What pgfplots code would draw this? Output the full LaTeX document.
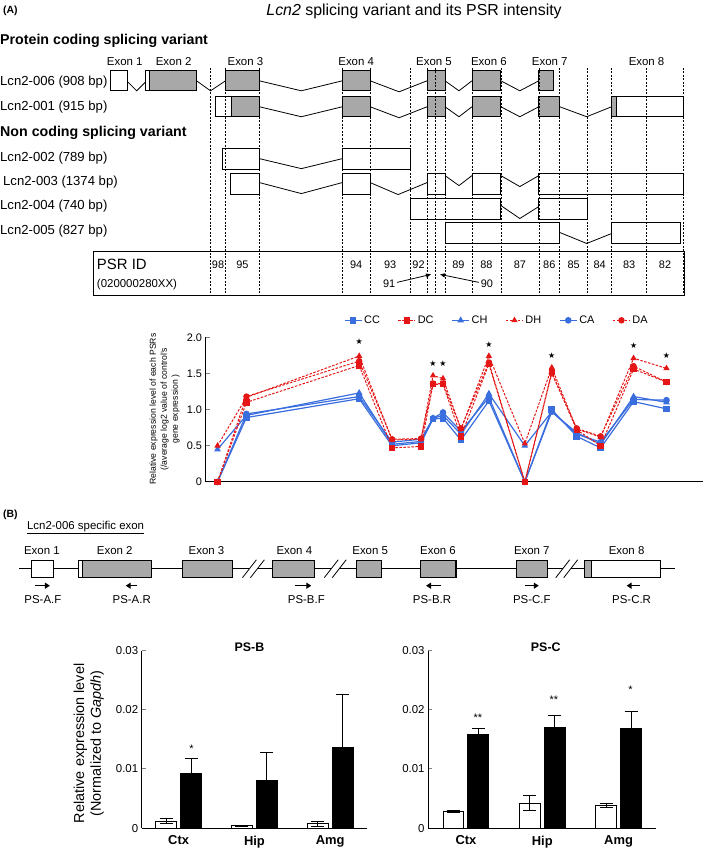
\documentclass[border=0pt]{standalone}
\usepackage{pgfplots}
\pgfplotsset{compat=1.18}
\usepackage{pgfplotstable}
\usepackage{fontspec}
\setmainfont{Liberation Sans}
\newfontfamily\djv{DejaVu Sans}
\usetikzlibrary{arrows.meta}
\definecolor{lblue}{RGB}{58,110,222}
\definecolor{lred}{RGB}{228,22,22}
\definecolor{exgray}{RGB}{168,168,168}
\newcommand{\fs}[1]{\fontsize{#1}{#1}\selectfont}

% PSR intensities, x = position of the PSR under the gene diagram
\pgfplotstableread{
x   CC   DC   CH   DH   CA   DA
218 0    0    0.45 0.50 0    0
247 0.89 1.10 0.92 1.17 0.94 1.18
360 1.15 1.61 1.23 1.74 1.18 1.67
393 0.50 0.47 0.52 0.58 0.55 0.59
422 0.54 0.49 0.56 0.59 0.59 0.60
434 0.87 1.35 0.88 1.47 0.88 1.36
444 0.88 1.35 0.92 1.43 0.96 1.36
462 0.58 0.63 0.66 0.73 0.70 0.74
490 1.12 1.63 1.22 1.74 1.17 1.65
526 0    0    0.50 0.53 0    0
553 1.00 1.52 0.97 1.58 0.97 1.50
578 0.63 0.72 0.68 0.73 0.66 0.74
602 0.47 0.50 0.52 0.62 0.55 0.63
635 1.11 1.56 1.18 1.71 1.14 1.60
668 1.01 1.38 1.10 1.57 1.13 1.38
}\psr

\pgfplotstableread{
x w      we      b      be
1 0.0012 0.0004  0.0092 0.0025
2 0.0004 0.00005 0.0080 0.0047
3 0.0007 0.0004  0.0137 0.0088
}\psb

\pgfplotstableread{
x w      we      b      be
1 0.0028 0.0001  0.0159 0.0010
2 0.0042 0.0013  0.0170 0.0021
3 0.0038 0.0003  0.0168 0.0029
}\psc

\pgfplotsset{
  bluel/.style={lblue, line width=1.2bp, solid, mark size=2.7bp, mark options={solid}},
  redl/.style={lred, line width=1bp, dash pattern=on 2.5bp off 1.5bp, mark size=2.7bp, mark options={solid}},
  barax/.style={anchor=south west, scale only axis, height=178bp,
    ybar=4bp, bar width=21bp, ymin=0, ymax=0.03,
    axis lines*=left, axis line style={line width=1bp},
    xtick={1,2,3}, xticklabels={Ctx,Hip,Amg}, x tick style={draw=none},
    xticklabel style={font=\bfseries\fs{13}, yshift=-4bp},
    ytick={0,0.01,0.02,0.03}, yticklabels={0,0.01,0.02,0.03}, scaled y ticks=false,
    tick align=inside, major tick length=4bp, y tick style={line width=1bp},
    yticklabel style={font=\fs{11.5}},
    /pgf/number format/assume math mode=true},
  ebar/.style={error bars/.cd, y dir=both, y explicit,
    error bar style={black, line width=1bp},
    error mark options={black, rotate=90, mark size=6.5bp, line width=1bp}}
}

\begin{document}
\begin{tikzpicture}[
  gx/.style={fill=exgray,draw=black,line width=0.8bp},
  wx/.style={fill=white,draw=black,line width=0.8bp},
  cn/.style={draw=black,line width=0.8bp},
  dv/.style={draw=black,line width=0.55bp,dash pattern=on 2bp off 1.5bp},
  lab/.style={inner sep=0pt,font=\fs{13.2}},
  ex/.style={inner sep=0pt,font=\fs{11.5}},
  arr/.style={line width=1.3bp,-{Triangle[length=5bp,width=6bp]}}
]
% ---------- canvas in pixel units ----------
\begin{axis}[at={(0,0)}, anchor=south west, scale only axis,
  width=709bp, height=851bp, xmin=0, xmax=709, ymin=0, ymax=851,
  y dir=reverse, hide axis, clip=false]
\path (0,0) rectangle (709,851);
\node[anchor=west,inner sep=0pt,font=\bfseries\fs{10.5}] at (3,11) {(A)};
\node[inner sep=0pt,font=\fs{16}] at (415,11) {\textit{Lcn2} splicing variant and its PSR intensity};
\node[anchor=west,inner sep=0pt,font=\bfseries\fs{14.3}] at (0,41) {Protein coding splicing variant};
\node[anchor=west,inner sep=0pt,font=\bfseries\fs{14.3}] at (0,133) {Non coding splicing variant};
\node[anchor=west,lab] at (0,82) {Lcn2-006 (908 bp)};
\node[anchor=west,lab] at (0,107) {Lcn2-001 (915 bp)};
\node[anchor=west,lab] at (0,158) {Lcn2-002 (789 bp)};
\node[anchor=west,lab] at (3,183) {Lcn2-003 (1374 bp)};
\node[anchor=west,lab] at (0,207) {Lcn2-004 (740 bp)};
\node[anchor=west,lab] at (0,232) {Lcn2-005 (827 bp)};
% exon labels
\foreach \xx/\tt in {125/1,174/2,246/3,357/4,435/5,490/6,551/7,648/8}{
  \edef\tmp{\noexpand\node[ex] at (\xx,62) {Exon \tt};}\tmp}
% Lcn2-006
\draw[wx] (111,71) rectangle (128,91);
\draw[cn] (128,82) -- (137,91) -- (146,82);
\draw[wx] (146,71) rectangle (150,91);
\draw[gx] (150,71) rectangle (197,91);
\draw[cn] (197,81) -- (211,91) -- (226,81);
\draw[gx] (226,71) rectangle (260,91);
\draw[cn] (260,81) -- (302,91) -- (343,81);
\draw[gx] (343,71) rectangle (371,91);
\draw[cn] (371,81) -- (400,92) -- (428,81);
\draw[gx] (428,71) rectangle (446,91);
\draw[cn] (446,81) -- (460,91) -- (473,81);
\draw[gx] (473,71) rectangle (502,91);
\draw[cn] (502,81) -- (521,91) -- (540,81);
\draw[gx] (540,71) rectangle (555,91);
% Lcn2-001
\draw[wx] (216,97) rectangle (232,117);
\draw[gx] (232,97) rectangle (260,117);
\draw[cn] (260,107) -- (302,117) -- (343,107);
\draw[gx] (343,97) rectangle (371,117);
\draw[cn] (371,107) -- (400,118) -- (428,107);
\draw[gx] (428,97) rectangle (446,117);
\draw[cn] (446,107) -- (460,117) -- (473,107);
\draw[gx] (473,97) rectangle (502,117);
\draw[cn] (502,107) -- (521,117) -- (540,107);
\draw[gx] (540,97) rectangle (561,117);
\draw[cn] (561,107) -- (588,117) -- (613,107);
\draw[gx] (613,97) rectangle (618,117);
\draw[wx] (618,97) rectangle (685,117);
% Lcn2-002
\draw[wx] (223,149) rectangle (260,170);
\draw[cn] (260,159) -- (302,169) -- (343,159);
\draw[wx] (343,149) rectangle (411,170);
% Lcn2-003
\draw[wx] (231,174) rectangle (260,195);
\draw[cn] (260,183) -- (302,194) -- (343,183);
\draw[wx] (343,174) rectangle (371,195);
\draw[cn] (371,183) -- (399,195) -- (428,183);
\draw[wx] (428,174) rectangle (446,195);
\draw[cn] (446,176) -- (460,186) -- (473,176);
\draw[wx] (473,174) rectangle (502,195);
\draw[cn] (502,176) -- (521,187) -- (540,176);
\draw[wx] (540,174) rectangle (685,195);
% Lcn2-004
\draw[wx] (411,199) rectangle (502,220);
\draw[cn] (502,206) -- (521,219) -- (540,207);
\draw[wx] (540,199) rectangle (589,220);
% Lcn2-005
\draw[wx] (446,223) rectangle (561,244);
\draw[cn] (561,233) -- (588,244) -- (613,234);
\draw[wx] (613,223) rectangle (682,244);
% PSR box
\draw[black,line width=0.8bp] (94,252) rectangle (686,296);
\foreach \xx in {211,226,260,343,371,411,428,436,446,473,502,540,561,589,613,648,685}{
  \edef\tmp{\noexpand\draw[dv] (\xx,68) -- (\xx,296);}\tmp}
\node[anchor=west,inner sep=0pt,font=\fs{15}] at (97,265) {PSR ID};
\node[anchor=west,inner sep=0pt,font=\fs{11.5}] at (97,285) {(020000280XX)};
\foreach \xx/\tt in {218.5/98,243/95,357/94,391/93,419.5/92,459.5/89,487.5/88,521/87,550.5/86,575/85,601/84,630.5/83,666.5/82}{
  \edef\tmp{\noexpand\node[ex,font=\noexpand\fs{11}] at (\xx,265) {\tt};}\tmp}
\node[ex,font=\fs{11}] at (390,284) {91};
\node[ex,font=\fs{11}] at (488,284) {90};
\draw[line width=0.8bp,-{Triangle[length=5bp,width=4bp]}] (398,283) -- (432,275);
\draw[line width=0.8bp,-{Triangle[length=5bp,width=4bp]}] (480,283) -- (441,275);
% line chart y label
\node[rotate=90,align=center,inner sep=0pt,font=\fontsize{8.7}{11}\selectfont] at (165,410)
  {Relative expression level of each PSRs\\(/average log2 value of control's\\gene expression )};
% ---------- panel B ----------
\node[anchor=west,inner sep=0pt,font=\bfseries\fs{10.5}] at (3,516) {(B)};
\node[anchor=west,inner sep=0pt,font=\fs{11.5}] at (27,529) {\underline{Lcn2-006 specific exon}};
\draw[cn] (19,570) -- (250,570);
\draw[cn] (258,570) -- (332,570);
\draw[cn] (340,570) -- (564,570);
\draw[cn] (572,570) -- (677,570);
\foreach \xx in {243,251,325,333,557,565}{
  \edef\tmp{\noexpand\draw[cn] (\xx,579) -- (\xx+14,561);}\tmp}
\draw[wx,line width=1.1bp] (32,562) rectangle (54,579);
\draw[wx,line width=1.1bp] (79,562) rectangle (83,579);
\draw[gx,line width=1.1bp] (83,562) rectangle (152,579);
\draw[gx,line width=1.1bp] (183,562) rectangle (233,579);
\draw[gx,line width=1.1bp] (273,562) rectangle (315,579);
\draw[gx,line width=1.1bp] (357,562) rectangle (382,579);
\draw[gx,line width=1.1bp] (421,562) rectangle (457,579);
\draw[gx,line width=1.1bp] (518,562) rectangle (549,579);
\draw[gx,line width=1.1bp] (586,562) rectangle (593,579);
\draw[wx,line width=1.1bp] (593,562) rectangle (662,579);
\foreach \xx/\tt in {42/1,115/2,207/3,295/4,371/5,439/6,533/7,628/8}{
  \edef\tmp{\noexpand\node[ex] at (\xx,552) {Exon \tt};}\tmp}
\draw[arr] (35,587) -- (50,587);
\draw[arr] (137,587) -- (126,587);
\draw[arr] (296,587) -- (312,587);
\draw[arr] (442,587) -- (427,587);
\draw[arr] (526,587) -- (540,587);
\draw[arr] (641,587) -- (628,587);
\foreach \xx/\tt in {43/A.F,132/A.R,307/B.F,433/B.R,533/C.F,633/C.R}{
  \edef\tmp{\noexpand\node[ex] at (\xx,601) {PS-\tt};}\tmp}
% bar chart labels
\node[rotate=90,align=center,inner sep=0pt,font=\fontsize{14.5}{17}\selectfont] at (89,745)
  {Relative expression level\\(Normalized to \textit{Gapdh})};
\node[inner sep=0pt,font=\bfseries\fs{12.5}] at (250,649) {PS-B};
\node[inner sep=0pt,font=\bfseries\fs{12.5}] at (547,649) {PS-C};
\node[inner sep=0pt,font=\fs{11}] at (192,750) {*};
\node[inner sep=0pt,font=\fs{11}] at (479,719) {**};
\node[inner sep=0pt,font=\fs{11}] at (555,701) {**};
\node[inner sep=0pt,font=\fs{11}] at (632,691) {*};
\end{axis}

% ---------- PSR intensity line chart ----------
\begin{axis}[at={(206bp,368bp)}, anchor=south west, scale only axis,
  width=499bp, height=145bp, xmin=206, xmax=705, ymin=0, ymax=2,
  axis lines*=left, axis line style={line width=1bp},
  xtick=\empty, ytick={0,0.5,1,1.5,2}, yticklabels={0,0.5,1.0,1.5,2.0},
  tick align=inside, major tick length=4bp, y tick style={line width=1bp},
  yticklabel style={font=\fs{11}},
  /pgf/number format/assume math mode=true,
  clip=false,
  legend columns=6,
  legend style={draw=none, fill=none, at={(0.585,1.117)}, anchor=center,
    font=\fs{11}, /tikz/every even column/.append style={column sep=16bp}}]
\addlegendimage{bluel, mark=square*}\addlegendentry{CC}
\addlegendimage{redl, mark=square*}\addlegendentry{DC}
\addlegendimage{bluel, mark=triangle*}\addlegendentry{CH}
\addlegendimage{redl, mark=triangle*}\addlegendentry{DH}
\addlegendimage{bluel, mark=*}\addlegendentry{CA}
\addlegendimage{redl, mark=*}\addlegendentry{DA}
\addplot[bluel, mark=square*, forget plot] table[x=x,y=CC]{\psr};
\addplot[bluel, mark=triangle*, forget plot] table[x=x,y=CH]{\psr};
\addplot[bluel, mark=*, forget plot] table[x=x,y=CA]{\psr};
\addplot[redl, mark=square*, forget plot] table[x=x,y=DC]{\psr};
\addplot[redl, mark=triangle*, forget plot] table[x=x,y=DH]{\psr};
\addplot[redl, mark=*, forget plot] table[x=x,y=DA]{\psr};
\foreach \xx/\yy in {360/1.94,434/1.64,444/1.64,490/1.90,553/1.75,635/1.89,668/1.75}{
  \edef\tmp{\noexpand\node[inner sep=0pt,font=\noexpand\djv\noexpand\fs{8}] at (axis cs:\xx,\yy) {★};}\tmp}
\end{axis}

% ---------- PS-B ----------
\begin{axis}[barax, at={(142bp,21bp)}, width=226bp, xmin=0.513, xmax=3.487]
\addplot[fill=white, draw=black, line width=1bp, ebar] table[x=x,y=w,y error=we]{\psb};
\addplot[fill=black, draw=black, line width=1bp, ebar] table[x=x,y=b,y error=be]{\psb};
\end{axis}

% ---------- PS-C ----------
\begin{axis}[barax, at={(429bp,21bp)}, width=228bp, xmin=0.503, xmax=3.484]
\addplot[fill=white, draw=black, line width=1bp, ebar] table[x=x,y=w,y error=we]{\psc};
\addplot[fill=black, draw=black, line width=1bp, ebar] table[x=x,y=b,y error=be]{\psc};
\end{axis}
\end{tikzpicture}
\end{document}
